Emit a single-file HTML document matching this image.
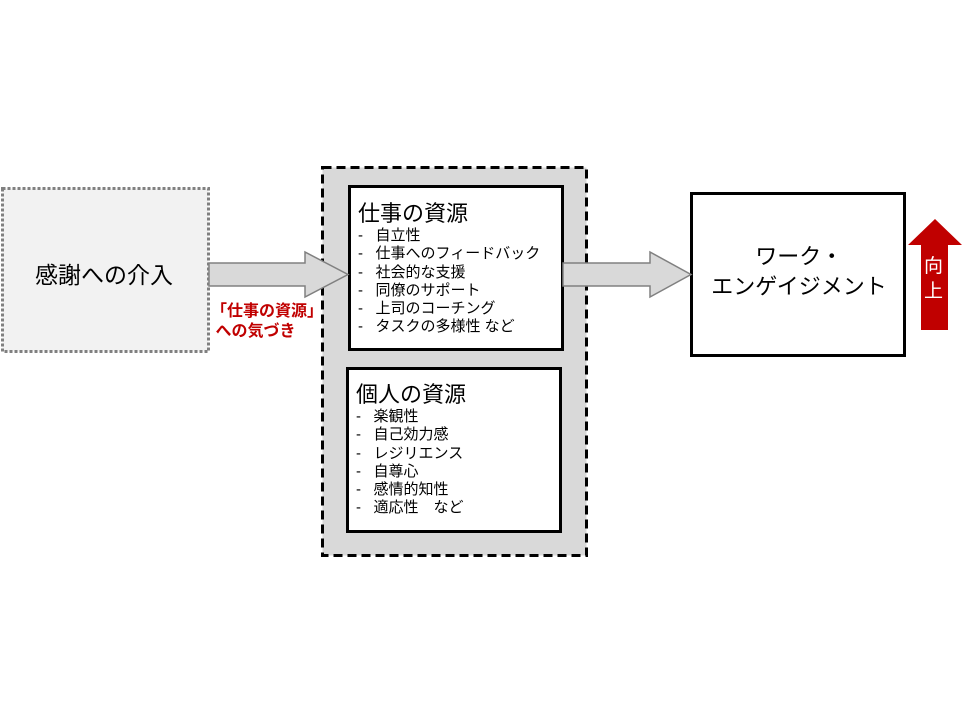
<!DOCTYPE html>
<html><head><meta charset="utf-8"><style>
body{margin:0;width:963px;height:722px;background:#fff;position:relative;overflow:hidden;font-family:"Liberation Sans","Noto Sans CJK JP",sans-serif;color:#000}
.t{position:absolute;white-space:nowrap}
.h{position:absolute;white-space:nowrap;font-size:22px;line-height:22px}
.list{position:absolute;font-size:15px;line-height:18.3px;white-space:pre}
</style></head><body>
<svg width="963" height="722" style="position:absolute;left:0;top:0">
<rect x="2.5" y="188.5" width="206" height="163" fill="#f2f2f2" stroke="#808080" stroke-width="3" stroke-dasharray="3,2"/>
<rect x="322.5" y="167.5" width="264" height="388" fill="#d9d9d9" stroke="#000" stroke-width="3" stroke-dasharray="9,5"/>
<rect x="349.5" y="186.5" width="213" height="163" fill="#fff" stroke="#000" stroke-width="3"/>
<rect x="347.5" y="368.5" width="213" height="163" fill="#fff" stroke="#000" stroke-width="3"/>
<rect x="691.5" y="193.5" width="213" height="162" fill="#fff" stroke="#000" stroke-width="3"/>
<polygon points="209,263 305,263 305,252 348,274.5 305,297 305,286 209,286" fill="#d9d9d9" stroke="#808080" stroke-width="1.5"/>
<polygon points="563,263 650,263 650,252 691,274.5 650,297 650,286 563,286" fill="#d9d9d9" stroke="#808080" stroke-width="1.5"/>
<polygon points="935,219 962,245 948,245 948,330 921,330 921,245 908,245" fill="#c00000"/>
</svg>
<div class="t" style="left:35px;top:256px;font-size:23px">感謝への介入</div>
<div class="t" style="left:211px;top:302px;font-size:16px;font-weight:bold;color:#c00000;line-height:20px">「仕事の資源」<br>&nbsp;への気づき</div>
<div class="h" style="left:358px;top:203px">仕事の資源</div>
<div class="list" style="left:358px;top:227px">-   自立性
-   仕事へのフィードバック
-   社会的な支援
-   同僚のサポート
-   上司のコーチング
-   タスクの多様性 など</div>
<div class="h" style="left:356px;top:384px">個人の資源</div>
<div class="list" style="left:356px;top:408px">-   楽観性
-   自己効力感
-   レジリエンス
-   自尊心
-   感情的知性
-   適応性　など</div>
<div class="t" style="left:691px;top:242px;width:216px;text-align:center;font-size:22px;line-height:30px">ワーク・<br>エンゲイジメント</div>
<div class="t" style="left:924px;top:254px;font-size:19px;color:#fff;line-height:25px">向<br>上</div>
</body></html>
